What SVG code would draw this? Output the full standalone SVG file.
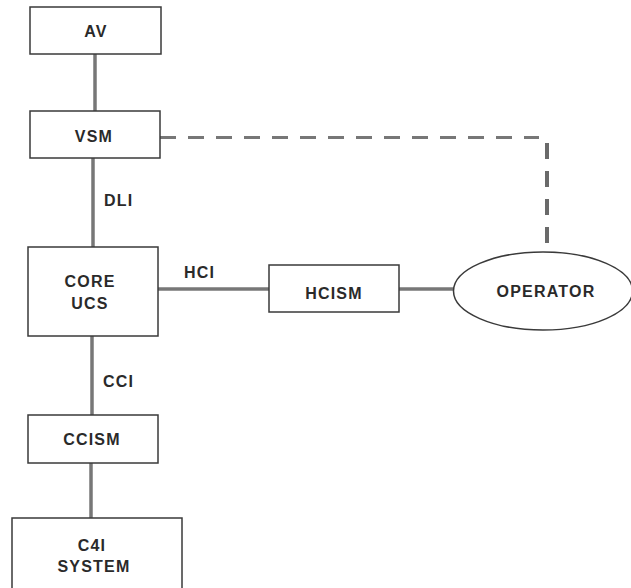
<svg xmlns="http://www.w3.org/2000/svg" width="631" height="588" viewBox="0 0 631 588">
  <style>
    .box { fill: #ffffff; stroke: #3a3a3a; stroke-width: 1.5; }
    .lbl { font-family: "Liberation Sans", Arial, sans-serif; font-weight: bold; font-size: 16px; fill: #2a2a2a; letter-spacing: 1.2px; text-anchor: middle; }
    .conn { stroke: #777777; stroke-width: 3.5; fill: none; }
    .dash { stroke: #777777; stroke-width: 3; fill: none; stroke-dasharray: 16 12; }
    .dashv { stroke: #6a6a6a; stroke-width: 4; fill: none; stroke-dasharray: 16 12; }
    .clbl { font-family: "Liberation Sans", Arial, sans-serif; font-weight: bold; font-size: 16px; fill: #2a2a2a; letter-spacing: 1.2px; }
  </style>
  <rect width="631" height="588" fill="#ffffff"/>
  <g id="connectors">
    <line class="conn" x1="95" y1="54" x2="95" y2="111"/>
    <line class="conn" x1="93" y1="158" x2="93" y2="247"/>
    <line class="conn" x1="158" y1="289" x2="269" y2="289"/>
    <line class="conn" x1="399" y1="289" x2="454" y2="289"/>
    <line class="conn" x1="92" y1="336" x2="92" y2="415"/>
    <line class="conn" x1="91" y1="463" x2="91" y2="518"/>
    <path class="dash" d="M160 137.5 H539"/>
    <path class="dashv" d="M547 143 V243"/>
    <text class="clbl" x="104" y="206">DLI</text>
    <text class="clbl" x="184" y="278">HCI</text>
    <text class="clbl" x="103" y="387">CCI</text>
  </g>
  <g id="av">
    <rect class="box" x="30" y="7" width="131" height="47"/>
    <text class="lbl" x="96" y="37">AV</text>
  </g>
  <g id="vsm">
    <rect class="box" x="30" y="111" width="130" height="47"/>
    <text class="lbl" x="94" y="142">VSM</text>
  </g>
  <g id="core-ucs">
    <rect class="box" x="28" y="247" width="130" height="89"/>
    <text class="lbl" x="90" y="287">CORE</text>
    <text class="lbl" x="90" y="309">UCS</text>
  </g>
  <g id="hcism">
    <rect class="box" x="269" y="265" width="130" height="47"/>
    <text class="lbl" x="334" y="299">HCISM</text>
  </g>
  <g id="operator">
    <ellipse class="box" cx="543" cy="291" rx="89.5" ry="39"/>
    <text class="lbl" x="546" y="297">OPERATOR</text>
  </g>
  <g id="ccism">
    <rect class="box" x="28" y="415" width="130" height="48"/>
    <text class="lbl" x="92" y="445">CCISM</text>
  </g>
  <g id="c4i-system">
    <rect class="box" x="12" y="518" width="170" height="80"/>
    <text class="lbl" x="92" y="551">C4I</text>
    <text class="lbl" x="94" y="572">SYSTEM</text>
  </g>
</svg>
